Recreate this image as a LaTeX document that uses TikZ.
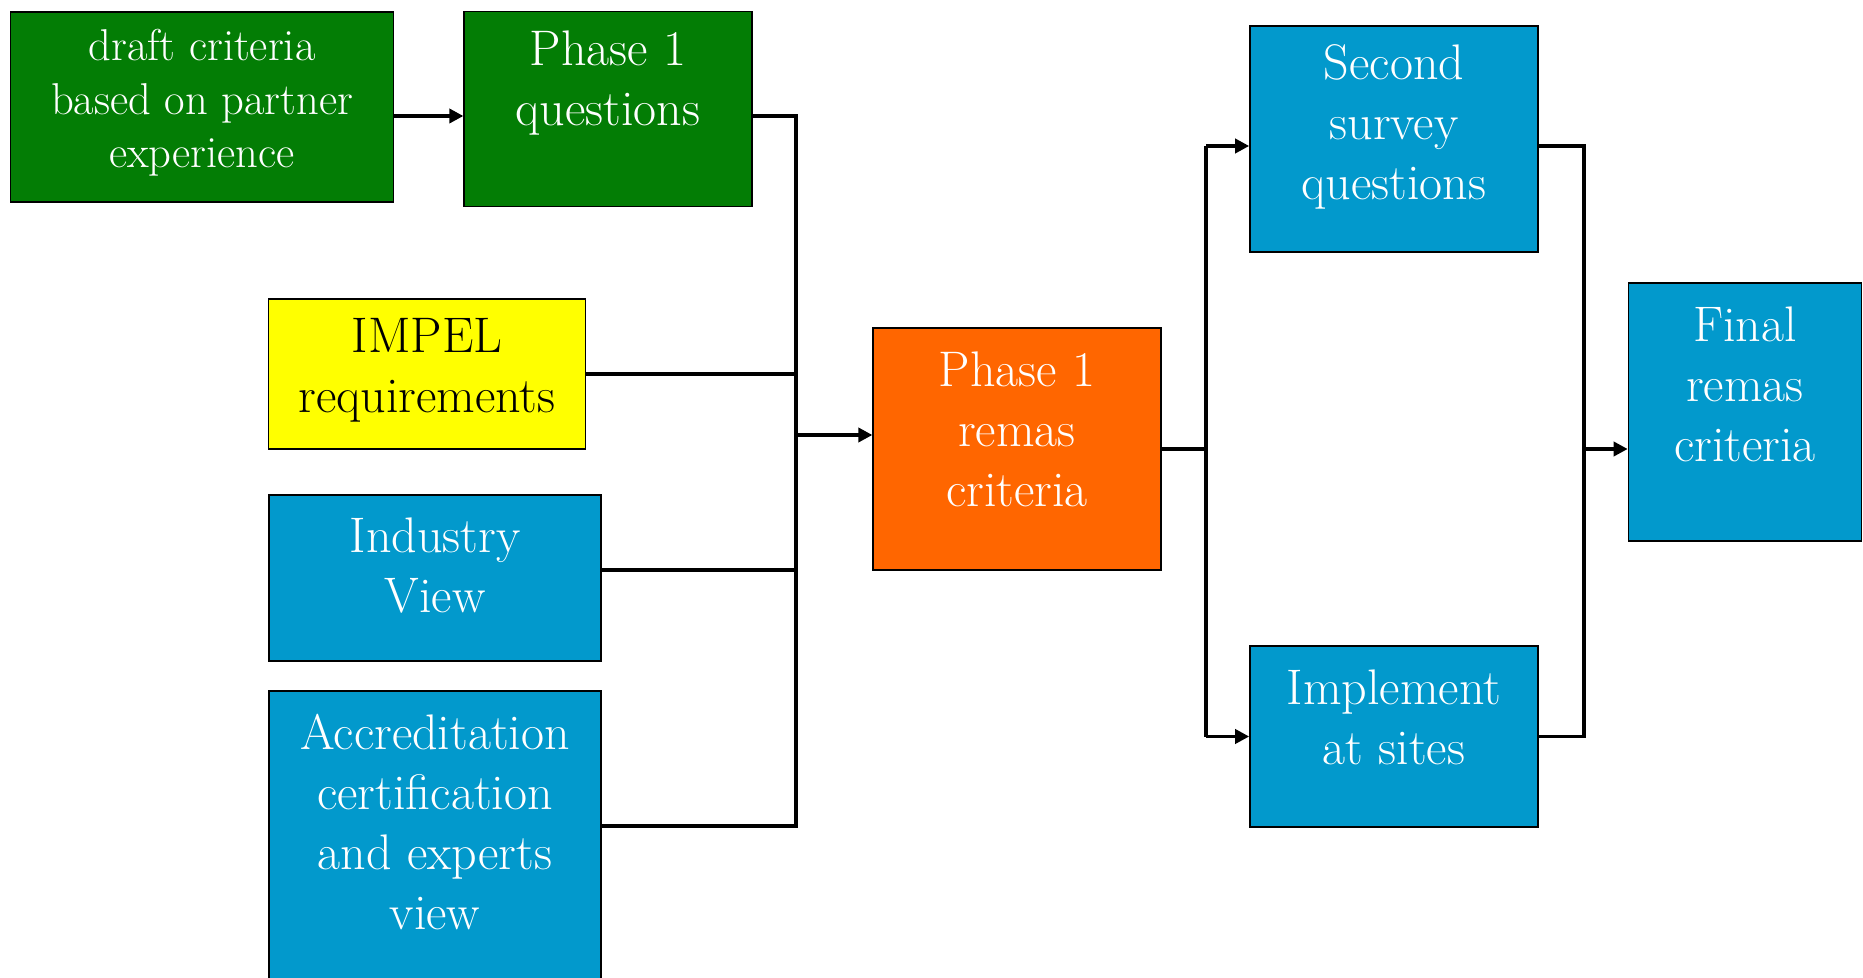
\documentclass[tikz,border=0pt]{standalone}
\usetikzlibrary{arrows.meta}
\definecolor{boxgreen}{RGB}{3,125,5}
\definecolor{boxblue}{RGB}{2,153,204}
\definecolor{boxorange}{RGB}{255,102,0}
\definecolor{boxyellow}{RGB}{255,255,0}

\begin{document}
\begin{tikzpicture}[x=0.5pt,y=-0.5pt,
                box/.style={draw=black,line width=0.8pt,inner sep=0pt,minimum width=#1},
                txt/.style={align=center,text=white,font=\fontsize{25}{30}\selectfont},
                wire/.style={line width=1.9pt},
                arr/.style={wire,-{Triangle[length=7pt,width=7pt]}}]
                \useasboundingbox (0,0) rectangle (1863,978);
                \node[box=191.5pt,fill=boxgreen,minimum height=95pt](draft)at(202,107){};
                \node[box=143.8pt,fill=boxgreen,minimum height=97.4pt](p1q)at(608,109){};
                \node[box=158.6pt,fill=boxyellow,minimum height=74.8pt](impel)at(427,374){};
                \node[box=166.2pt,fill=boxblue,minimum height=82.8pt](industry)at(435,578){};
                \node[box=166.2pt,fill=boxblue,minimum height=154.5pt](accred)at(435,845.5){};
                \node[box=143.8pt,fill=boxorange,minimum height=121pt](remas)at(1017,449){};
                \node[box=144pt,fill=boxblue,minimum height=113pt](second)at(1394,139){};
                \node[box=144pt,fill=boxblue,minimum height=90.5pt](implement)at(1394,736.5){};
                \node[box=116.5pt,fill=boxblue,minimum height=128.8pt](final)at(1745,412){};
                \node[txt,font=\fontsize{22.3}{26.7}\selectfont](draft-t)at(202,103){draft criteria\\based on partner\\experience};
                \node[txt](p1q-t)at(608,83){Phase 1\\questions};
                \node[txt,text=black](impel-t)at(427,370){IMPEL\\requirements};
                \node[txt](industry-t)at(435,565.5){Industry\\View};
                \node[txt](accred-t)at(435,822){Accreditation\\certification\\and experts\\view};
                \node[txt](remas-t)at(1017,429){Phase 1\\remas\\criteria};
                \node[txt](second-t)at(1394,127){Second\\survey\\questions};
                \node[txt](implement-t)at(1394,717.6){Implement\\at sites};
                \node[txt](final-t)at(1745,384){Final\\remas\\criteria};
                \coordinate(bus1top)at(796,116);
                \coordinate(bus1bot)at(796,826);
                \coordinate(bus1in)at(796,435);
                \coordinate(bus1ind)at(796,570);
                \coordinate(bus2top)at(1206,146);
                \coordinate(bus2bot)at(1206,736.5);
                \coordinate(bus2in)at(1206,449);
                \coordinate(bus3top)at(1583.6,146);
                \coordinate(bus3bot)at(1583.6,736.5);
                \coordinate(bus3out)at(1583.6,449);
                \draw[arr](draft.east|-bus1top)--(p1q.west|-bus1top);
                \draw[wire](p1q.east|-bus1top)--(bus1top)--(bus1bot)--(accred.east|-bus1bot);
                \draw[wire](impel.east)--(bus1top|-impel.east);
                \draw[wire](industry.east|-bus1ind)--(bus1ind);
                \draw[arr](bus1in)--(remas.west|-bus1in);
                \draw[wire](remas.east)--(bus2in);
                \draw[wire](bus2top)--(bus2bot);
                \draw[arr](bus2top)--(second.west|-bus2top);
                \draw[arr](bus2bot)--(implement.west|-bus2bot);
                \draw[wire](second.east|-bus3top)--(bus3top)--(bus3bot)--(implement.east|-bus3bot);
                \draw[arr](bus3out)--(final.west|-bus3out);
            \end{tikzpicture}
\end{document}
